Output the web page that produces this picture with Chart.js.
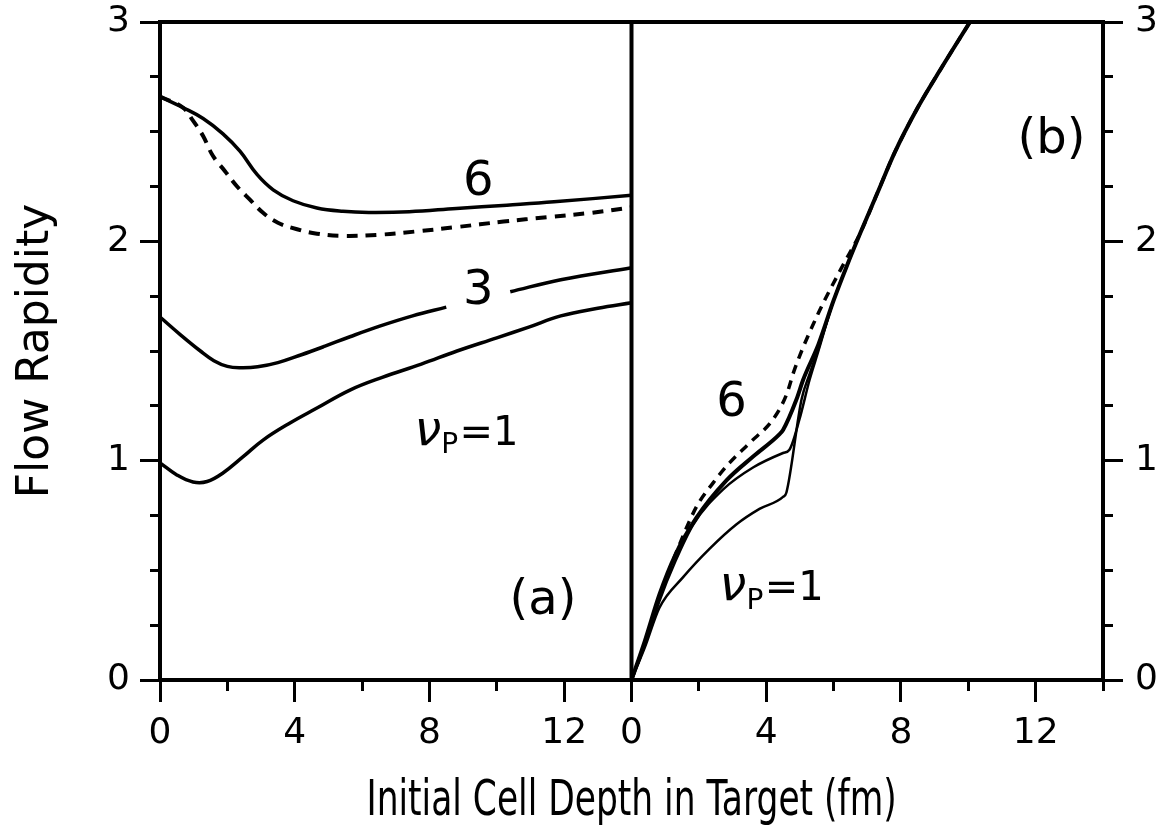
<!DOCTYPE html>
<html>
<head>
<meta charset="utf-8">
<title>Flow Rapidity</title>
<script src="https://cdn.jsdelivr.net/npm/chart.js@4.4.1/dist/chart.umd.min.js"></script>
<style>
    body { margin: 0; background: #fff; }
    #wrap { position: relative; width: 1163px; height: 833px; overflow: hidden; background: #fff; }
    #myChart { position: absolute; left: 0; top: 0; }
    .note { position: absolute; font-family: 'DejaVu Sans', sans-serif; color: #000; white-space: nowrap; line-height: 1; transform: translate(-50%, -50%); }
    .nu { font-style: italic; font-size: 1.2em; }
    .sub { font-size: 0.7em; position: relative; top: 0.3em; margin-right: 0.05em; }
    #xTitle { position: absolute; top: 773px; left: 0; font-family: 'DejaVu Sans', sans-serif; font-size: 50px; color: #000; white-space: nowrap; line-height: 1; }
</style>
</head>
<body>
<div id="wrap">
    <canvas id="myChart" width="1163" height="833"></canvas>
    <div class="note" id="note0" style="font-size:48px">6</div>
    <div class="note" id="note1" style="font-size:48px">3</div>
    <div class="note" id="note2" style="font-size:40px"><span class="nu">ν</span><span class="sub">P</span>=1</div>
    <div class="note" id="note3" style="font-size:48px">(a)</div>
    <div class="note" id="note4" style="font-size:48px">(b)</div>
    <div class="note" id="note5" style="font-size:48px">6</div>
    <div class="note" id="note6" style="font-size:40px"><span class="nu">ν</span><span class="sub">P</span>=1</div>
    <div id="xTitle">Initial Cell Depth in Target (fm)</div>
</div>
<script>
// panel (a)
const aX6 = [0, 0.68, 1.28, 1.87, 2.38, 2.88, 3.36, 3.95, 4.66, 5.43, 6.2, 7.4, 8.8, 10.3, 11.7, 14];
const aY6 = [2.66, 2.61, 2.56, 2.49, 2.41, 2.305, 2.235, 2.185, 2.152, 2.137, 2.132, 2.135, 2.15, 2.165, 2.18, 2.21];
const aXd = [0, 0.68, 0.98, 1.28, 1.57, 1.93, 2.29, 2.67, 3.06, 3.5, 4.07, 4.66, 5.4, 6.5, 7.6, 8.8, 10.2, 11.5, 12.8, 14];
const aYd = [2.66, 2.61, 2.55, 2.48, 2.39, 2.32, 2.25, 2.19, 2.13, 2.085, 2.055, 2.035, 2.025, 2.03, 2.045, 2.065, 2.09, 2.11, 2.13, 2.155];
const aX3 = [0, 0.6, 1.2, 1.6, 2.0, 2.4, 2.9, 3.5, 4.2, 4.9, 5.64, 6.5, 7.5, 8.5, 9.4, 10.4, 11.9, 14];
const aY3 = [1.655, 1.575, 1.50, 1.456, 1.43, 1.424, 1.428, 1.447, 1.483, 1.522, 1.565, 1.612, 1.66, 1.70, null, 1.77, 1.825, 1.88];
const aX1 = [0, 0.5, 0.98, 1.4, 1.87, 2.46, 3.06, 3.86, 4.66, 5.64, 6.6, 7.76, 8.82, 10.0, 10.95, 11.9, 13, 14];
const aY1 = [0.99, 0.935, 0.903, 0.905, 0.944, 1.017, 1.094, 1.172, 1.24, 1.322, 1.38, 1.44, 1.50, 1.56, 1.609, 1.66, 1.695, 1.72];

// panel (b), all curves run into the same upper branch
const bTopX = [6.0, 6.4, 6.8, 7.3, 7.8, 8.5, 9.2, 10.05];
const bTopY = [1.73, 1.89, 2.04, 2.22, 2.40, 2.61, 2.79, 3.0];
const bXd = [0, 0.4, 0.83, 1.3, 1.93, 2.43, 2.91, 3.5, 4.21, 4.6, 4.85, 5.54, 6.24];
const bYd = [0, 0.17, 0.38, 0.57, 0.79, 0.9, 0.99, 1.08, 1.19, 1.3, 1.42, 1.67, 1.88];
const bX6 = [0, 0.4, 0.83, 1.3, 1.93, 2.82, 3.62, 4.39, 4.5, 4.9, 5.1, 5.55];
const bY6 = [0, 0.18, 0.39, 0.57, 0.74, 0.91, 1.02, 1.12, 1.14, 1.28, 1.37, 1.53];
const bX3 = [0, 0.4, 0.83, 1.3, 1.84, 2.73, 3.62, 4.5, 4.69, 4.99, 5.29, 5.55];
const bY3 = [0, 0.16, 0.36, 0.54, 0.71, 0.87, 0.97, 1.035, 1.05, 1.19, 1.37, 1.50];
const bX1 = [0, 0.4, 0.83, 1.54, 2.33, 3.12, 3.8, 4.5, 4.6, 5.05, 5.3, 5.55];
const bY1 = [0, 0.15, 0.33, 0.47, 0.6, 0.71, 0.78, 0.835, 0.855, 1.28, 1.40, 1.51];

const xTickLabels = ['0', '4', '8', '12'];
const yTickLabels = ['0', '1', '2', '3'];

// text notes, in chart units (panel b sits at x+14)
const notes = [
    {id: 'note0', x: 9.45, y: 2.29},
    {id: 'note1', x: 9.45, y: 1.79},
    {id: 'note2', x: 9.1, y: 1.15},
    {id: 'note3', x: 11.37, y: 0.38},
    {id: 'note4', x: 26.47, y: 2.48},
    {id: 'note5', x: 16.97, y: 1.28},
    {id: 'note6', x: 18.16, y: 0.44}
];

const FONT = "'DejaVu Sans', sans-serif";
const panelWidth = 14;

function pts(xs, ys, shift) {
    let out = [];
    for (let i = 0; i < xs.length; i++) {
        out.push({x: xs[i] + shift, y: ys[i]});
    }
    return out;
}

function withTop(xs, ys) {
    let out = pts(xs, ys, panelWidth);
    let last = xs[xs.length - 1];
    for (let i = 0; i < bTopX.length; i++) {
        if (bTopX[i] > last + 0.2) {
            out.push({x: bTopX[i] + panelWidth, y: bTopY[i]});
        }
    }
    return out;
}

function isMajorX(v) {
    if (v >= 2 * panelWidth) return false;
    return (v % panelWidth) % 4 === 0;
}

function line(data, width, dash, smooth) {
    let ds = {
        data: data,
        borderColor: '#000',
        borderWidth: width,
        borderDash: dash || [],
        pointRadius: 0,
        fill: false,
        spanGaps: false
    };
    if (smooth) {
        ds.tension = 0.4;
    } else {
        ds.cubicInterpolationMode = 'monotone';
    }
    return ds;
}

const framePlugin = {
    id: 'frame',
    afterDatasetsDraw(chart) {
        const ctx = chart.ctx;
        const a = chart.chartArea;
        ctx.save();
        ctx.strokeStyle = '#000';
        ctx.lineWidth = 4;
        ctx.strokeRect(a.left, a.top, a.right - a.left, a.bottom - a.top);
        let xm = chart.scales.x.getPixelForValue(panelWidth);
        ctx.beginPath();
        ctx.moveTo(xm, a.top);
        ctx.lineTo(xm, a.bottom);
        ctx.stroke();
        ctx.restore();
    }
};

const notePlugin = {
    id: 'notes',
    afterRender(chart) {
        const sx = chart.scales.x;
        const sy = chart.scales.y;
        for (let i = 0; i < notes.length; i++) {
            let el = document.getElementById(notes[i].id);
            el.style.left = sx.getPixelForValue(notes[i].x) + 'px';
            el.style.top = sy.getPixelForValue(notes[i].y) + 'px';
        }
        let t = document.getElementById('xTitle');
        let w = t.offsetWidth;
        let s = 530 / w;
        let cx = (chart.chartArea.left + chart.chartArea.right) / 2;
        t.style.left = (cx - w / 2) + 'px';
        t.style.transform = 'scaleX(' + s + ')';
    }
};

function yGrid(minorDash) {
    return {
        drawOnChartArea: false,
        tickLength: 20,
        tickWidth: 3,
        tickColor: '#000',
        tickBorderDash: (ctx) => (ctx.tick && Number.isInteger(ctx.tick.value)) ? [] : minorDash
    };
}

function yTicks(pad) {
    return {
        stepSize: 0.25,
        autoSkip: false,
        padding: pad,
        color: '#000',
        font: {family: FONT, size: 36, lineHeight: 0.5},
        callback: (v) => Number.isInteger(v) ? yTickLabels[v] : ''
    };
}

var config = {
    type: 'line',
    data: {
        datasets: [
            line(pts(aX6, aY6, 0), 3.5, null, true),
            line(pts(aXd, aYd, 0), 4, [11, 8], true),
            line(pts(aX3, aY3, 0), 3.5, null, true),
            line(pts(aX1, aY1, 0), 3.5, null, true),
            line(withTop(bXd, bYd), 3.5, [9, 7]),
            line(withTop(bX6, bY6), 4),
            line(withTop(bX3, bY3), 2.5),
            line(withTop(bX1, bY1), 2.5)
        ]
    },
    options: {
        responsive: false,
        animation: false,
        devicePixelRatio: 1,
        layout: {padding: {top: 22, left: 0, right: 0, bottom: 0}},
        plugins: {legend: {display: false}, tooltip: {enabled: false}},
        scales: {
            x: {
                type: 'linear',
                position: 'bottom',
                min: 0,
                max: 2 * panelWidth,
                afterFit: (s) => { s.height = 153; },
                border: {display: false},
                grid: {
                    drawOnChartArea: false,
                    tickLength: 22,
                    tickWidth: 3,
                    tickColor: '#000',
                    tickBorderDash: (ctx) => (ctx.tick && isMajorX(ctx.tick.value)) ? [] : [11, 100]
                },
                ticks: {
                    stepSize: 2,
                    autoSkip: false,
                    maxRotation: 0,
                    padding: 10,
                    color: '#000',
                    font: {family: FONT, size: 36},
                    callback: (v) => isMajorX(v) ? xTickLabels[(v % panelWidth) / 4] : ''
                }
            },
            y: {
                type: 'linear',
                position: 'left',
                min: 0,
                max: 3,
                afterFit: (s) => { s.width = 160; },
                border: {display: false},
                grid: yGrid([0, 10, 100]),
                ticks: yTicks(10),
                title: {
                    display: true,
                    text: 'Flow Rapidity',
                    color: '#000',
                    font: {family: FONT, size: 44},
                    padding: {top: 10, bottom: 0}
                }
            },
            y2: {
                type: 'linear',
                position: 'right',
                display: true,
                min: 0,
                max: 3,
                afterFit: (s) => { s.width = 60; },
                border: {display: false},
                grid: yGrid([10, 100]),
                ticks: yTicks(12)
            }
        }
    },
    plugins: [framePlugin, notePlugin]
};

var myChart = new Chart(document.getElementById('myChart'), config);
</script>
</body>
</html>
